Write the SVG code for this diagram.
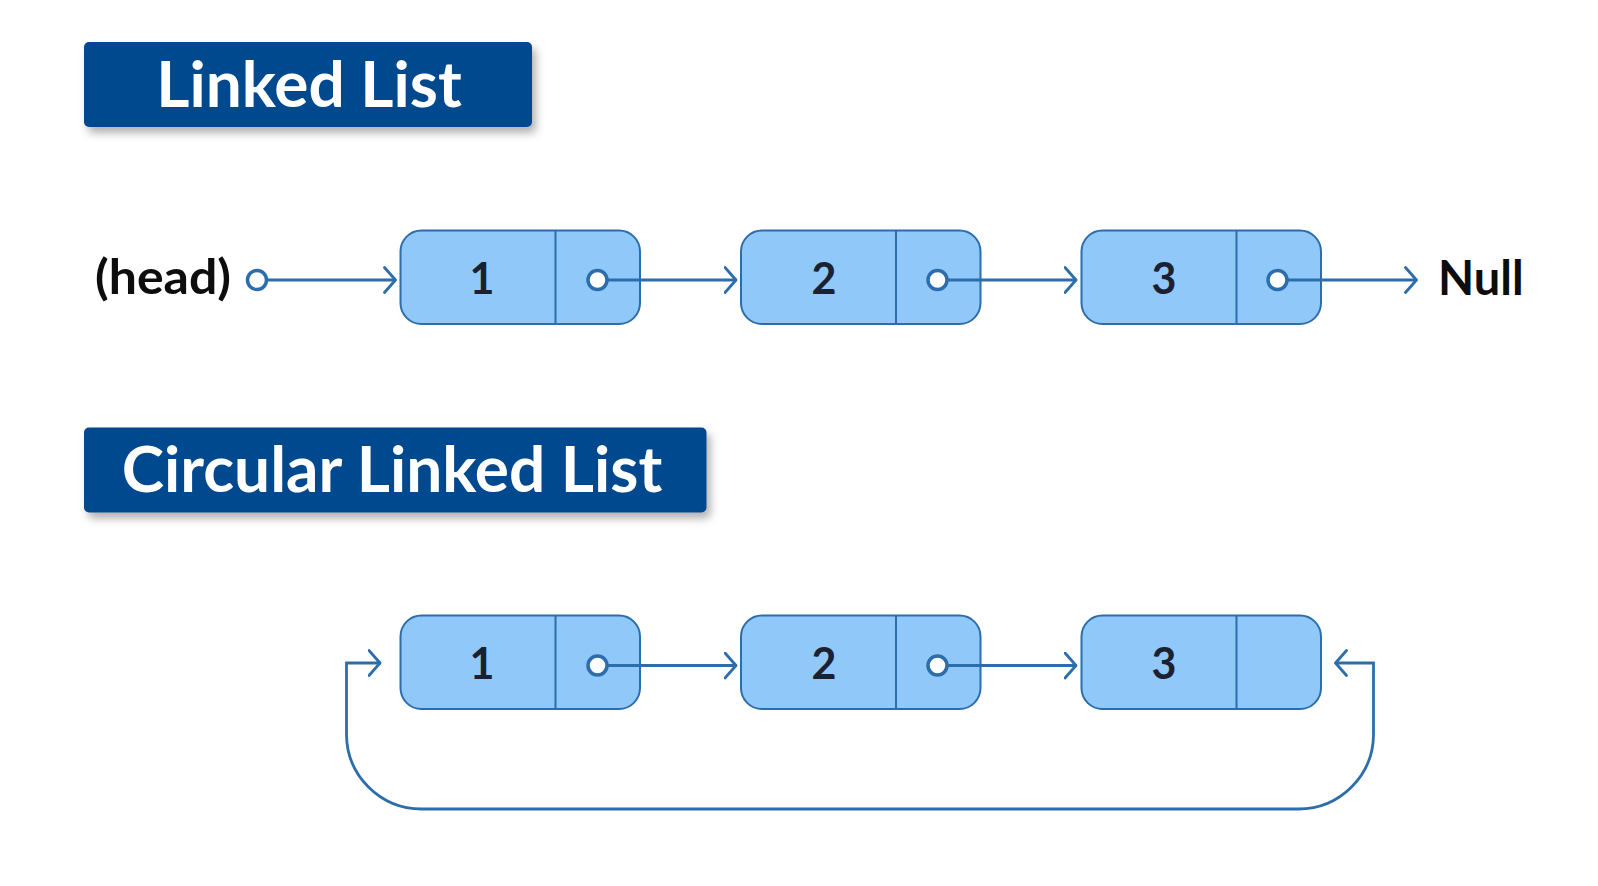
<svg xmlns="http://www.w3.org/2000/svg" width="1598" height="886" viewBox="0 0 1598 886">
<defs>
<filter id="sh" x="-10%" y="-20%" width="130%" height="160%">
<feDropShadow dx="4" dy="6" stdDeviation="4" flood-color="#000" flood-opacity="0.3"/>
</filter>
<marker id="chev" viewBox="0 0 14 28" refX="13" refY="14" markerWidth="14" markerHeight="28" markerUnits="userSpaceOnUse" orient="auto-start-reverse">
<path d="M1.5 1.5 L12.5 14 L1.5 26.5" fill="none" stroke="#2c6dab" stroke-width="2.8" stroke-linecap="round" stroke-linejoin="round"/>
</marker>
<style>
.title{fill:#03488f;filter:url(#sh)}
.ttxt{font-family:Lato,"Noto Sans",sans-serif;font-weight:700;font-size:64px;fill:#fff;text-anchor:middle}
.lbl{font-family:Lato,"Noto Sans",sans-serif;font-weight:700;font-size:47px;fill:#0d0d0d}
.cell{fill:#8fc8f9;stroke:#2c6dab;stroke-width:2}
.div{stroke:#2c6dab;stroke-width:2}
.num{font-family:Lato,"Noto Sans",sans-serif;font-weight:700;font-size:43px;fill:#1b2130;text-anchor:middle}
.ptr{fill:#fff;stroke:#2c6dab;stroke-width:3.5}
.con{fill:none;stroke:#2c6dab;stroke-width:2.8}
</style>
</defs>
<rect width="1598" height="886" fill="#fff"/>

<g id="title-linked-list">
<rect class="title" x="84" y="42" width="448" height="85" rx="5"/>
<text class="ttxt" x="309" y="107">Linked List</text>
</g>
<g id="title-circular">
<rect class="title" x="84" y="427.5" width="622.5" height="85" rx="5"/>
<text class="ttxt" x="392" y="492">Circular Linked List</text>
</g>

<g id="head">
<text class="lbl" x="95" y="293.5" textLength="136" lengthAdjust="spacingAndGlyphs">(head)</text>
</g>
<g id="null">
<text class="lbl" x="1438" y="295">Null</text>
</g>

<g id="ll-node-1">
<rect class="cell" x="400.5" y="230.5" width="239.5" height="93.5" rx="21"/>
<line class="div" x1="555.5" y1="230.5" x2="555.5" y2="324"/>
<text class="num" x="482" y="293.5">1</text>
</g>
<g id="ll-node-2">
<rect class="cell" x="741" y="230.5" width="239.5" height="93.5" rx="21"/>
<line class="div" x1="896" y1="230.5" x2="896" y2="324"/>
<text class="num" x="824" y="293.5">2</text>
</g>
<g id="ll-node-3">
<rect class="cell" x="1081.5" y="230.5" width="239.5" height="93.5" rx="21"/>
<line class="div" x1="1236.5" y1="230.5" x2="1236.5" y2="324"/>
<text class="num" x="1164" y="293.5">3</text>
</g>

<g id="cll-node-1">
<rect class="cell" x="400.5" y="615.5" width="239.5" height="93.5" rx="21"/>
<line class="div" x1="555.5" y1="615.5" x2="555.5" y2="709"/>
<text class="num" x="482" y="678.5">1</text>
</g>
<g id="cll-node-2">
<rect class="cell" x="741" y="615.5" width="239.5" height="93.5" rx="21"/>
<line class="div" x1="896" y1="615.5" x2="896" y2="709"/>
<text class="num" x="824" y="678.5">2</text>
</g>
<g id="cll-node-3">
<rect class="cell" x="1081.5" y="615.5" width="239.5" height="93.5" rx="21"/>
<line class="div" x1="1236.5" y1="615.5" x2="1236.5" y2="709"/>
<text class="num" x="1164" y="678.5">3</text>
</g>

<g id="connectors">
<line class="con" x1="267" y1="280" x2="396" y2="280" marker-end="url(#chev)"/>
<line class="con" x1="607" y1="280" x2="736.5" y2="280" marker-end="url(#chev)"/>
<line class="con" x1="947" y1="280" x2="1076.5" y2="280" marker-end="url(#chev)"/>
<line class="con" x1="1287" y1="280" x2="1417" y2="280" marker-end="url(#chev)"/>
<line class="con" x1="607" y1="665.5" x2="736.5" y2="665.5" marker-end="url(#chev)"/>
<line class="con" x1="947" y1="665.5" x2="1076.5" y2="665.5" marker-end="url(#chev)"/>
<path class="con" d="M1335 663 H1373.5 V734 A75 75 0 0 1 1298.5 809 H421.5 A75 75 0 0 1 346.5 734 V663 H380.5" marker-start="url(#chev)" marker-end="url(#chev)"/>
</g>

<g id="pointers">
<circle class="ptr" cx="257" cy="280" r="9.5"/>
<circle class="ptr" cx="597.5" cy="280" r="9.5"/>
<circle class="ptr" cx="937.5" cy="280" r="9.5"/>
<circle class="ptr" cx="1277.5" cy="280" r="9.5"/>
<circle class="ptr" cx="597.5" cy="665.5" r="9.5"/>
<circle class="ptr" cx="937.5" cy="665.5" r="9.5"/>
</g>
</svg>
